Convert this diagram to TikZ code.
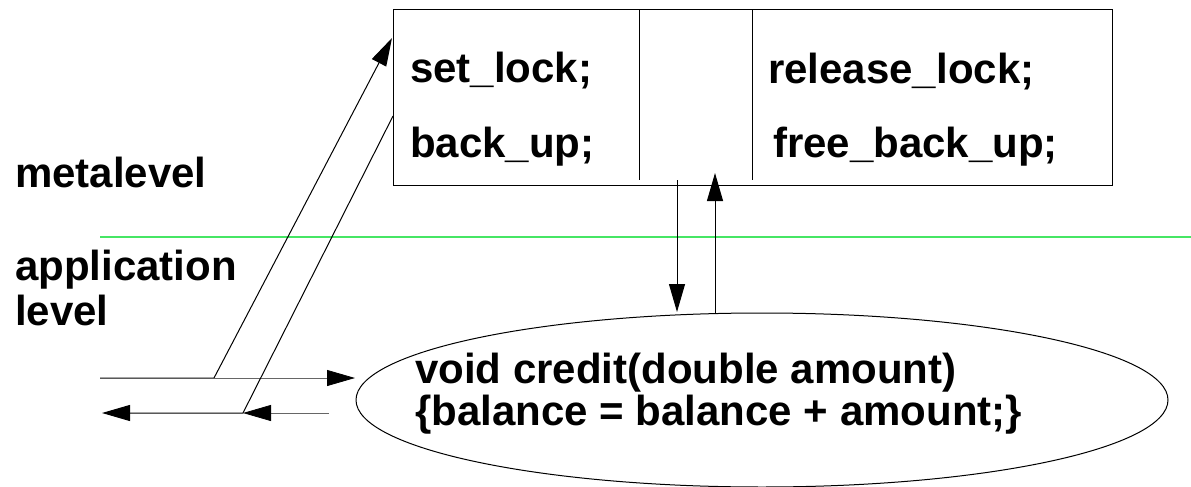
\documentclass[tikz,border=0pt]{standalone}
\usepackage{fontspec}
\setmainfont{Liberation Sans}
\usetikzlibrary{arrows.meta,shapes.geometric,calc}
\definecolor{levelgreen}{RGB}{70,230,100}
\begin{document}
\begin{tikzpicture}[x=1pt,y=-1pt,
  lbl/.style={anchor=base west,inner sep=0pt,font=\fontsize{42}{45}\selectfont\bfseries},
  conn/.style={line width=1pt,-{Triangle[length=28pt,width=16pt]}},
  grayconn/.style={line width=0.8pt,draw=black!60,-{Triangle[length=28pt,width=16pt,color=black]}},
  frame/.style={draw,line width=1pt,inner sep=0pt}]
\useasboundingbox (0,0) rectangle (1191,487);
% meta box
\node[frame,minimum width=719pt,minimum height=175pt] (box) at (752.5,97.5) {};
\coordinate (d1t) at (639,10); \coordinate (d1b) at (639,180);
\coordinate (d2t) at (752,10); \coordinate (d2b) at (752,180);
\draw[line width=1pt] (d1t) -- (d1b);
\draw[line width=1pt] (d2t) -- (d2b);
\node[lbl] (setlock) at (410,82) {set\_lock;};
\node[lbl] (backup) at (410,157) {back\_up;};
\node[lbl] (release) at (768,83) {release\_lock;};
\node[lbl] (freeb) at (773,157) {free\_back\_up;};
% level labels and separator
\node[lbl] (meta) at (15,187) {metalevel};
\node[lbl] (app) at (15,280) {application};
\node[lbl] (lev) at (15,325) {level};
\coordinate (gl) at (100,237); \coordinate (gr) at (1191,237);
\draw[levelgreen,line width=1.5pt] (gl) -- (gr);
% method ellipse
\node[ellipse,draw,line width=1pt,minimum width=812pt,minimum height=174pt,inner sep=0pt] (m) at (762,400) {};
\node[lbl] (code1) at (415,383) {void credit(double amount)};
\node[lbl] (code2) at (415,425) {\{balance = balance + amount;\}};
% vertical arrows box <-> ellipse
\coordinate (downs) at (677,180); \coordinate (downe) at (677,312);
\coordinate (ups) at (715,313); \coordinate (upe) at (715,173);
\draw[conn] (downs) -- (downe);
\draw[conn] (ups) -- (upe);
% left call arrows
\coordinate (in0) at (100,378); \coordinate (in1) at (214,378);
\coordinate (intip) at (392,38); \coordinate (inm) at (355,378);
\draw[conn,line join=miter] (in0) -- (in1) -- (intip);
\draw[grayconn] (in1) -- (inm);
\coordinate (out0) at (393,116); \coordinate (out1) at (243,413);
\coordinate (outtip) at (102,413); \coordinate (outm) at (329,413);
\draw[conn] (out0) -- (out1) -- (outtip);
\draw[grayconn] (outm) -- (out1);
\end{tikzpicture}
\end{document}
